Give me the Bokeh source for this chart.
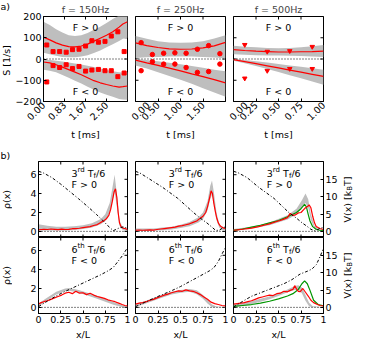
from math import pi
from bokeh.plotting import figure
from bokeh.models import (Range1d, FixedTicker, Label, Span, NumeralTickFormatter)
from bokeh.layouts import column, row
from bokeh.embed import file_html
from bokeh.resources import INLINE

FONT = "DejaVu Sans"
FS = "9.5px"
SMALL = "7px"
RED = "#ff0000"
GREEN = "#009600"
GREY = "#bebebe"

# ---------------- panel a data ----------------
a_titles = ["f = 150Hz", "f = 250Hz", "f = 500Hz"]
a_xmax = [3.333, 2.0, 1.0]
a_ticks = [[0.0, 0.833, 1.667, 2.5], [0.0, 0.5, 1.0, 1.5], [0.0, 0.25, 0.5, 0.75, 1.0]]
S_ticks = [-200, -100, 0, 100, 200]

t_a1 = [0, 0.25, 0.5, 0.75, 1.0, 1.25, 1.5, 1.75, 2.0, 2.25, 2.5, 2.75, 3.0, 3.15, 3.333]
up_line_a1 = [103, 90, 76, 65, 58, 57, 61, 70, 84, 98, 112, 128, 150, 165, 175]
up_hi_a1 = [175, 160, 140, 125, 112, 108, 112, 122, 138, 152, 170, 188, 205, 210, 215]
up_lo_a1 = [30, 22, 15, 10, 8, 8, 12, 18, 28, 40, 55, 70, 85, 95, 100]
lo_line_a1 = [-14, -18, -27, -38, -50, -62, -74, -88, -102, -112, -120, -127, -132, -130, -127]
lo_hi_a1 = [-3, -5, -8, -12, -16, -21, -26, -32, -38, -45, -52, -58, -62, -63, -62]
lo_lo_a1 = [-50, -55, -62, -75, -88, -102, -115, -130, -145, -158, -168, -178, -188, -190, -192]
tp_a1 = [0.13, 0.38, 0.64, 0.90, 1.15, 1.41, 1.67, 1.92, 2.18, 2.44, 2.69, 2.95, 3.20]
up_pts_a1 = [66, 35, 35, 32, 44, 46, 61, 86, 79, 83, 108, 128, 35]
lo_pts_a1 = [-108, -31, -40, -27, -45, -35, -57, -52, -49, -55, -55, -83, -66]

t_a2 = [0, 0.25, 0.5, 0.75, 1.0, 1.25, 1.5, 1.75, 2.0]
up_line_a2 = [76, 63, 54, 48, 46, 47, 52, 62, 78]
up_hi_a2 = [108, 95, 84, 78, 76, 78, 84, 96, 112]
up_lo_a2 = [5, 8, 10, 12, 12, 12, 10, 7, 3]
lo_line_a2 = [-5, -18, -30, -43, -56, -70, -83, -97, -112]
lo_hi_a2 = [0, -5, -11, -18, -25, -33, -41, -50, -58]
lo_lo_a2 = [-30, -45, -62, -80, -98, -117, -138, -158, -178]
tp_a2 = [0.125, 0.375, 0.625, 0.875, 1.125, 1.375, 1.625, 1.875]
up_pts_a2 = [77, 21, 27, 29, 27, 46, 63, 25]
lo_pts_a2 = [-55, -13, -24, -24, -40, -63, -59, -24]

t_a3 = [0, 0.125, 0.25, 0.375, 0.5, 0.625, 0.75, 0.875, 1.0]
up_line_a3 = [44, 40, 37, 35, 33, 33, 34, 35, 37]
up_hi_a3 = [62, 58, 55, 52, 51, 52, 55, 60, 66]
up_lo_a3 = [22, 20, 18, 17, 16, 15, 14, 12, 10]
lo_line_a3 = [-3, -12, -22, -32, -42, -52, -62, -72, -82]
lo_hi_a3 = [0, -5, -11, -17, -23, -30, -37, -44, -51]
lo_lo_a3 = [-8, -20, -33, -47, -61, -76, -91, -106, -121]
tp_a3 = [0.125, 0.375, 0.625, 0.875]
up_pts_a3 = [67, 35, 38, 58]
lo_pts_a3 = [-91, -55, -46, -46]

# ---------------- panel b data ----------------
rho_ticks = [0, 2, 4, 6]
V_ticks = [0, 5, 10, 15]
xL_ticks = [0, 0.25, 0.5, 0.75, 1.0]
V_per_rho = 2.72

xV_b1 = [0, 0.05, 0.15, 0.25, 0.35, 0.45, 0.55, 0.65, 0.72, 0.78, 0.84, 0.9, 0.95, 1.0]
V_b1 = [17.3, 16.9, 15.5, 13.6, 11.5, 9.4, 7.2, 4.9, 3.2, 1.6, 0.2, 0.9, 1.3, 0.9]
x_b1 = [0, 0.03, 0.06, 0.1, 0.14, 0.18, 0.22, 0.26, 0.3, 0.34, 0.38, 0.42, 0.46, 0.5, 0.54,
        0.58, 0.62, 0.66, 0.7, 0.73, 0.76, 0.79, 0.81, 0.83, 0.85, 0.865, 0.88, 0.895, 0.91,
        0.93, 0.95, 0.97, 1.0]
red_b1 = [0.15, 0.2, 0.22, 0.2, 0.25, 0.22, 0.18, 0.24, 0.2, 0.22, 0.28, 0.3, 0.33, 0.4, 0.45,
          0.5, 0.62, 0.72, 0.95, 1.1, 1.3, 1.7, 2.3, 3.2, 4.2, 4.5, 3.6, 2.0, 0.9,
          0.45, 0.35, 0.3, 0.2]
xg_b1 = [0, 0.1, 0.2, 0.3, 0.4, 0.5, 0.6, 0.7, 0.75, 0.8, 0.83, 0.855, 0.88, 0.91, 0.94, 0.97, 1.0]
gh_b1 = [0.75, 0.6, 0.5, 0.5, 0.55, 0.65, 0.85, 1.3, 1.8, 3.0, 4.6, 6.0, 4.0, 1.2, 0.5, 0.3, 0.2]
gl_b1 = [0.1, 0.1, 0.1, 0.1, 0.15, 0.25, 0.4, 0.75, 1.1, 2.0, 3.2, 4.2, 2.6, 0.6, 0.2, 0.1, 0.05]

xV_b2 = [0, 0.05, 0.13, 0.3, 0.47, 0.65, 0.72, 0.79, 0.85, 0.89, 0.93, 0.97, 1.0]
V_b2 = [17.3, 16.8, 15.5, 12.7, 9.5, 5.3, 3.8, 2.5, 1.2, 0.3, 0.3, 1.0, 1.3]
x_b2 = [0, 0.04, 0.08, 0.12, 0.16, 0.2, 0.24, 0.28, 0.32, 0.36, 0.4, 0.44, 0.48, 0.52, 0.56,
        0.6, 0.64, 0.68, 0.72, 0.75, 0.78, 0.8, 0.82, 0.84, 0.855, 0.87, 0.885, 0.9, 0.92,
        0.94, 0.96, 0.98, 1.0]
red_b2 = [0.12, 0.13, 0.12, 0.14, 0.15, 0.14, 0.2, 0.25, 0.3, 0.35, 0.4, 0.45, 0.55, 0.6, 0.7,
          0.8, 0.95, 1.1, 1.4, 1.6, 2.0, 2.6, 3.4, 4.3, 4.0, 3.0, 2.2, 1.5, 0.9,
          0.6, 0.45, 0.35, 0.3]
xg_b2 = [0, 0.1, 0.2, 0.3, 0.4, 0.5, 0.6, 0.7, 0.75, 0.8, 0.83, 0.85, 0.87, 0.9, 0.93, 0.96, 1.0]
gh_b2 = [0.3, 0.3, 0.3, 0.4, 0.5, 0.7, 1.0, 1.5, 2.0, 3.2, 4.8, 5.4, 4.2, 2.0, 0.8, 0.4, 0.3]
gl_b2 = [0.05, 0.05, 0.08, 0.12, 0.2, 0.35, 0.55, 0.95, 1.3, 2.2, 3.4, 3.9, 3.0, 1.2, 0.4, 0.15, 0.1]

xV_b3 = [0, 0.05, 0.15, 0.28, 0.45, 0.62, 0.7, 0.76, 0.82, 0.86, 0.91, 0.96, 1.0]
V_b3 = [17.3, 16.9, 15.5, 12.7, 9.5, 5.3, 3.8, 2.5, 1.4, 0.6, 0.1, 0.9, 1.1]
x_b3 = [0, 0.04, 0.08, 0.12, 0.16, 0.2, 0.24, 0.28, 0.32, 0.36, 0.4, 0.44, 0.48, 0.52, 0.56,
        0.6, 0.63, 0.66, 0.69, 0.72, 0.75, 0.78, 0.8, 0.82, 0.84, 0.86, 0.88, 0.9, 0.92,
        0.94, 0.96, 0.98, 1.0]
red_b3 = [0.12, 0.15, 0.2, 0.25, 0.3, 0.35, 0.42, 0.5, 0.6, 0.7, 0.8, 0.92, 1.05, 1.15, 1.3,
          1.45, 1.9, 1.7, 1.75, 1.95, 2.0, 2.3, 2.5, 2.6, 2.8, 2.5, 1.6, 0.9, 0.5,
          0.4, 0.3, 0.25, 0.2]
xgr_b3 = [0, 0.1, 0.2, 0.3, 0.4, 0.5, 0.6, 0.7, 0.75, 0.79, 0.81, 0.83, 0.85, 0.88, 0.92, 0.96, 1.0]
green_b3 = [0.1, 0.25, 0.45, 0.65, 0.9, 1.15, 1.55, 2.0, 2.4, 2.85, 2.6, 1.8, 1.1, 0.5, 0.2, 0.12, 0.1]
xg_b3 = [0, 0.2, 0.4, 0.6, 0.7, 0.76, 0.8, 0.83, 0.86, 0.9, 0.95, 1.0]
gh_b3 = [0.25, 0.5, 0.95, 1.7, 2.4, 3.3, 4.0, 3.4, 1.8, 0.6, 0.2, 0.1]
gl_b3 = [0.05, 0.3, 0.65, 1.25, 1.8, 2.5, 3.0, 2.5, 1.2, 0.3, 0.08, 0.03]

xV_b4 = [0, 0.1, 0.2, 0.3, 0.4, 0.5, 0.6, 0.7, 0.78, 0.84, 0.88, 0.94, 1.0]
V_b4 = [0.2, 1.8, 3.3, 4.6, 5.8, 7.0, 8.2, 9.4, 10.5, 11.5, 12.8, 14.8, 17.2]
x_b4 = [0, 0.03, 0.06, 0.1, 0.14, 0.18, 0.22, 0.26, 0.3, 0.34, 0.38, 0.42, 0.46, 0.5, 0.54,
        0.58, 0.62, 0.66, 0.7, 0.74, 0.78, 0.82, 0.86, 0.9, 0.94, 0.97, 1.0]
red_b4 = [0.35, 0.5, 0.6, 0.7, 0.85, 1.0, 1.15, 1.3, 1.5, 1.6, 1.45, 1.7, 1.5, 1.55, 1.35,
          1.5, 1.3, 1.15, 1.05, 0.95, 0.8, 0.7, 0.6, 0.45, 0.3, 0.2, 0.15]
xg_b4 = [0, 0.1, 0.2, 0.3, 0.35, 0.45, 0.55, 0.65, 0.75, 0.85, 0.95, 1.0]
gh_b4 = [0.4, 1.05, 1.65, 2.0, 2.05, 1.85, 1.55, 1.25, 0.9, 0.55, 0.2, 0.08]
gl_b4 = [0.1, 0.75, 1.35, 1.7, 1.75, 1.55, 1.25, 0.95, 0.6, 0.25, 0.02, 0.0]

xV_b5 = [0, 0.1, 0.2, 0.3, 0.41, 0.5, 0.6, 0.7, 0.82, 0.87, 0.92, 0.96, 1.0]
V_b5 = [0.2, 1.4, 2.6, 3.7, 4.9, 6.0, 7.4, 8.8, 10.5, 11.4, 13.2, 15.3, 17.3]
x_b5 = [0, 0.04, 0.08, 0.12, 0.16, 0.2, 0.24, 0.28, 0.32, 0.36, 0.4, 0.44, 0.48, 0.52, 0.56,
        0.6, 0.64, 0.68, 0.72, 0.76, 0.8, 0.84, 0.88, 0.92, 0.96, 1.0]
red_b5 = [0.35, 0.45, 0.5, 0.6, 0.75, 0.85, 1.0, 1.15, 1.3, 1.4, 1.55, 1.65, 1.75, 1.7, 1.85,
          1.75, 1.7, 1.55, 1.35, 1.1, 0.85, 0.55, 0.4, 0.3, 0.2, 0.15]
xg_b5 = [0, 0.1, 0.2, 0.3, 0.4, 0.5, 0.6, 0.68, 0.75, 0.8, 0.85, 0.9, 1.0]
gh_b5 = [0.35, 0.65, 1.0, 1.35, 1.65, 1.85, 1.95, 1.8, 1.3, 0.8, 0.3, 0.08, 0.05]
gl_b5 = [0.05, 0.35, 0.7, 1.05, 1.35, 1.55, 1.65, 1.4, 0.9, 0.4, 0.02, 0.0, 0.0]

xV_b6 = [0, 0.1, 0.2, 0.28, 0.4, 0.56, 0.65, 0.74, 0.82, 0.87, 0.92, 0.96, 1.0]
V_b6 = [0.1, 1.7, 3.2, 4.0, 5.2, 6.8, 8.0, 9.6, 10.4, 11.0, 12.3, 14.5, 17.1]
x_b6 = [0, 0.04, 0.08, 0.12, 0.16, 0.2, 0.24, 0.28, 0.32, 0.36, 0.4, 0.44, 0.48, 0.52, 0.56,
        0.6, 0.63, 0.66, 0.68, 0.7, 0.72, 0.74, 0.77, 0.8, 0.83, 0.86, 0.89, 0.92, 0.96, 1.0]
red_b6 = [0.35, 0.4, 0.45, 0.5, 0.6, 0.7, 0.85, 1.0, 1.1, 1.2, 1.3, 1.25, 1.45, 1.5, 1.7,
          1.65, 1.8, 1.9, 2.3, 1.95, 1.7, 1.65, 2.0, 1.6, 1.2, 0.75, 0.5, 0.35, 0.2, 0.15]
xgr_b6 = [0, 0.1, 0.2, 0.3, 0.4, 0.5, 0.6, 0.66, 0.72, 0.76, 0.79, 0.82, 0.85, 0.89, 0.94, 1.0]
green_b6 = [0.1, 0.2, 0.3, 0.45, 0.65, 0.9, 1.2, 1.45, 1.9, 2.5, 2.8, 2.5, 1.8, 0.75, 0.3, 0.15]
xg_b6 = [0, 0.1, 0.2, 0.3, 0.4, 0.5, 0.6, 0.68, 0.72, 0.76, 0.8, 0.84, 0.88, 1.0]
gh_b6 = [0.3, 0.45, 0.65, 0.9, 1.15, 1.5, 1.9, 2.25, 2.35, 2.1, 1.3, 0.5, 0.12, 0.05]
gl_b6 = [0.05, 0.15, 0.35, 0.6, 0.85, 1.2, 1.6, 1.85, 1.85, 1.5, 0.7, 0.12, 0.0, 0.0]

# ---------------- layout settings ----------------
STRIP_L, STRIP_R = 12, 14
WIDTHS = [118, 98, 113]          # figure widths per column
LEFTS = [26, 5, 5]
RIGHTS = [3, 3, 18]
HA, TOPA, BOTA = 143, 15, 38     # row a
HB1, TOPB1 = 94, 18              # row b (top)
HB2, BOTB2 = 106, 30             # row b (bottom)
TOTAL_H = HA + HB1 + HB2
RHO_LO, RHO_HI = -0.65, 7.4


def base_fig(w, h, xr, yr, left, right, top, bottom):
    p = figure(width=w, height=h, x_range=xr, y_range=yr, toolbar_location=None,
               output_backend="svg", min_border_left=left, min_border_right=right,
               min_border_top=top, min_border_bottom=bottom)
    p.xgrid.visible = False
    p.ygrid.visible = False
    p.outline_line_color = "black"
    p.outline_line_width = 1
    p.background_fill_color = "white"
    p.border_fill_color = "white"
    return p


def style_axis(ax, label=None):
    ax.major_tick_in = 3
    ax.major_tick_out = 0
    ax.minor_tick_line_color = None
    ax.axis_line_color = "black"
    ax.major_tick_line_color = "black"
    ax.major_label_text_font = FONT
    ax.major_label_text_color = "black"
    ax.major_label_text_font_size = FS
    ax.major_label_standoff = 2
    ax.axis_label = label
    ax.axis_label_text_font = FONT
    ax.axis_label_text_font_size = FS
    ax.axis_label_text_font_style = "normal"
    ax.axis_label_text_color = "black"
    ax.axis_label_standoff = 3


def edge_ticks(p, side, ticks, rng, y_range_name="default"):
    """inward tick marks on a frame side without labels (clipped half of a dash)"""
    if side in ("top", "bottom"):
        xs = list(ticks)
        ys = [rng.end if side == "top" else rng.start] * len(ticks)
        ang = pi / 2
    else:
        ys = list(ticks)
        xs = [rng.end if side == "right" else rng.start] * len(ticks)
        ang = 0
    p.scatter(xs, ys, marker="dash", size=6, angle=ang, line_color="black",
              line_width=1, y_range_name=y_range_name)


def txt(p, x, y, s, size=FS, xo=0, yo=0, align="left", baseline="middle", angle=0):
    p.add_layout(Label(x=x, y=y, text=s, x_offset=xo, y_offset=yo, text_font=FONT,
                       text_font_size=size, text_align=align, text_baseline=baseline,
                       angle=angle, text_color="black"))


def strip(w):
    s = figure(width=w, height=TOTAL_H, x_range=Range1d(0, w), y_range=Range1d(TOTAL_H, 0),
               toolbar_location=None, output_backend="svg", x_axis_type=None,
               y_axis_type=None, min_border=0)
    s.outline_line_color = None
    s.background_fill_color = "white"
    s.border_fill_color = "white"
    return s


# ---------------- row a ----------------
a_data = [
    (t_a1, up_line_a1, up_hi_a1, up_lo_a1, lo_line_a1, lo_hi_a1, lo_lo_a1, tp_a1, up_pts_a1, lo_pts_a1, "square", 4),
    (t_a2, up_line_a2, up_hi_a2, up_lo_a2, lo_line_a2, lo_hi_a2, lo_lo_a2, tp_a2, up_pts_a2, lo_pts_a2, "circle", 4.5),
    (t_a3, up_line_a3, up_hi_a3, up_lo_a3, lo_line_a3, lo_hi_a3, lo_lo_a3, tp_a3, up_pts_a3, lo_pts_a3, "inverted_triangle", 4.5),
]
row_a = []
for i, d in enumerate(a_data):
    t, ul, uh, ulo, ll, lh, llo, tp, up, lp, mk, ms = d
    xr = Range1d(0, a_xmax[i])
    yr = Range1d(-200, 200)
    p = base_fig(WIDTHS[i], HA, xr, yr, LEFTS[i], RIGHTS[i], TOPA, BOTA)
    p.title.text = a_titles[i]
    p.title.align = "center"
    p.title.text_font = FONT
    p.title.text_font_size = FS
    p.title.text_font_style = "normal"
    p.title.standoff = 3
    xb = p.xaxis[0]
    xb.ticker = FixedTicker(ticks=a_ticks[i])
    xb.formatter = NumeralTickFormatter(format="0.00")
    xb.major_label_orientation = pi / 4
    style_axis(xb, "t [ms]")
    if i == 0:
        yl = p.yaxis[0]
        yl.ticker = FixedTicker(ticks=S_ticks)
        style_axis(yl)
    else:
        p.yaxis.visible = False
        edge_ticks(p, "left", S_ticks, xr)
    edge_ticks(p, "top", a_ticks[i], yr)
    edge_ticks(p, "right", S_ticks, xr)

    p.varea(x=t, y1=ulo, y2=uh, color=GREY)
    p.varea(x=t, y1=llo, y2=lh, color=GREY)
    p.line(t, ul, color=RED, line_width=1.2)
    p.line(t, ll, color=RED, line_width=1.2)
    p.scatter(tp, up, marker=mk, size=ms, color=RED)
    p.scatter(tp, lp, marker=mk, size=ms, color=RED)
    p.add_layout(Span(location=0, dimension="width", line_color="black",
                      line_dash="1 2", line_width=1))
    txt(p, a_xmax[i] / 2, 148, "F > 0", align="center")
    txt(p, a_xmax[i] / 2, -152, "F < 0", align="center")
    row_a.append(p)

# ---------------- rows b ----------------
b_data = [
    [(xV_b1, V_b1, x_b1, red_b1, None, None, xg_b1, gh_b1, gl_b1),
     (xV_b2, V_b2, x_b2, red_b2, None, None, xg_b2, gh_b2, gl_b2),
     (xV_b3, V_b3, x_b3, red_b3, xgr_b3, green_b3, xg_b3, gh_b3, gl_b3)],
    [(xV_b4, V_b4, x_b4, red_b4, None, None, xg_b4, gh_b4, gl_b4),
     (xV_b5, V_b5, x_b5, red_b5, None, None, xg_b5, gh_b5, gl_b5),
     (xV_b6, V_b6, x_b6, red_b6, xgr_b6, green_b6, xg_b6, gh_b6, gl_b6)],
]
b_labels = [("3", "rd", "F > 0"), ("6", "th", "F < 0")]

rows_b = []
for r in range(2):
    figs = []
    for i in range(3):
        xV, V, xr_, red, xgr, green, xg, gh, gl = b_data[r][i]
        if r == 0:
            h, top, bottom = HB1, TOPB1, 0
        else:
            h, top, bottom = HB2, 0, BOTB2
        xr = Range1d(0, 1)
        yr = Range1d(RHO_LO, RHO_HI)
        vr = Range1d(RHO_LO * V_per_rho, RHO_HI * V_per_rho)
        p = base_fig(WIDTHS[i], h, xr, yr, LEFTS[i], RIGHTS[i], top, bottom)
        p.extra_y_ranges = {"V": vr}
        if r == 1:
            xb = p.xaxis[0]
            xb.ticker = FixedTicker(ticks=xL_ticks)
            xb.formatter = NumeralTickFormatter(format="0.[00]")
            style_axis(xb, "x/L")
            edge_ticks(p, "top", xL_ticks, yr)
        else:
            p.xaxis.visible = False
            edge_ticks(p, "bottom", xL_ticks, yr)
            edge_ticks(p, "top", xL_ticks, yr)
        if i == 0:
            yl = p.yaxis[0]
            yl.ticker = FixedTicker(ticks=rho_ticks)
            style_axis(yl)
        else:
            p.yaxis.visible = False
            edge_ticks(p, "left", rho_ticks, xr)
        if i == 2:
            from bokeh.models import LinearAxis
            yv = LinearAxis(y_range_name="V", ticker=FixedTicker(ticks=V_ticks))
            style_axis(yv)
            p.add_layout(yv, "right")
        else:
            edge_ticks(p, "right", V_ticks, xr, y_range_name="V")

        p.varea(x=xg, y1=gl, y2=gh, color=GREY)
        if green is not None:
            p.line(xgr, green, color=GREEN, line_width=1.2)
        p.line(xr_, red, color=RED, line_width=1.2)
        p.line(xV, V, y_range_name="V", color="black", line_width=1, line_dash="3 2 1 2")
        p.add_layout(Span(location=0, dimension="width", line_color="black",
                          line_dash="1 2", line_width=1))
        n, sup, sign = b_labels[r]
        x0, y0 = 0.37, 6.15
        txt(p, x0, y0, n)
        txt(p, x0, y0, sup, size=SMALL, xo=6.0, yo=3.5)
        txt(p, x0, y0, "T", xo=16.3)
        txt(p, x0, y0, "f", size=SMALL, xo=22.1, yo=-2.5)
        txt(p, x0, y0, "/6", xo=24.6)
        txt(p, x0, 4.95, sign)
        figs.append(p)
    rows_b.append(figs)

# ---------------- side strips with panel letters and axis titles ----------------
frame_a_mid = TOPA + (HA - TOPA - BOTA) / 2
frame_b1_mid = HA + TOPB1 + (HB1 - TOPB1) / 2
frame_b2_mid = HA + HB1 + (HB2 - BOTB2) / 2

sl = strip(STRIP_L)
txt(sl, 0, 0, "a)", baseline="top")
txt(sl, 0, HA + 6, "b)", baseline="top")
txt(sl, 6, frame_a_mid, "S [1/s]", align="center", angle=pi / 2)
txt(sl, 6, frame_b1_mid, "ρ(x)", align="center", angle=pi / 2)
txt(sl, 6, frame_b2_mid, "ρ(x)", align="center", angle=pi / 2)

sr = strip(STRIP_R)
for yc in (frame_b1_mid, frame_b2_mid):
    txt(sr, 6, yc + 23, "V(x) [k", angle=pi / 2)
    txt(sr, 8.5, yc - 8.7, "B", size=SMALL, angle=pi / 2)
    txt(sr, 6, yc - 13.5, "T]", angle=pi / 2)

grid = column(row(*row_a), row(*rows_b[0]), row(*rows_b[1]))
layout = row(sl, grid, sr)
open("out.html", "w").write(file_html(layout, INLINE))
